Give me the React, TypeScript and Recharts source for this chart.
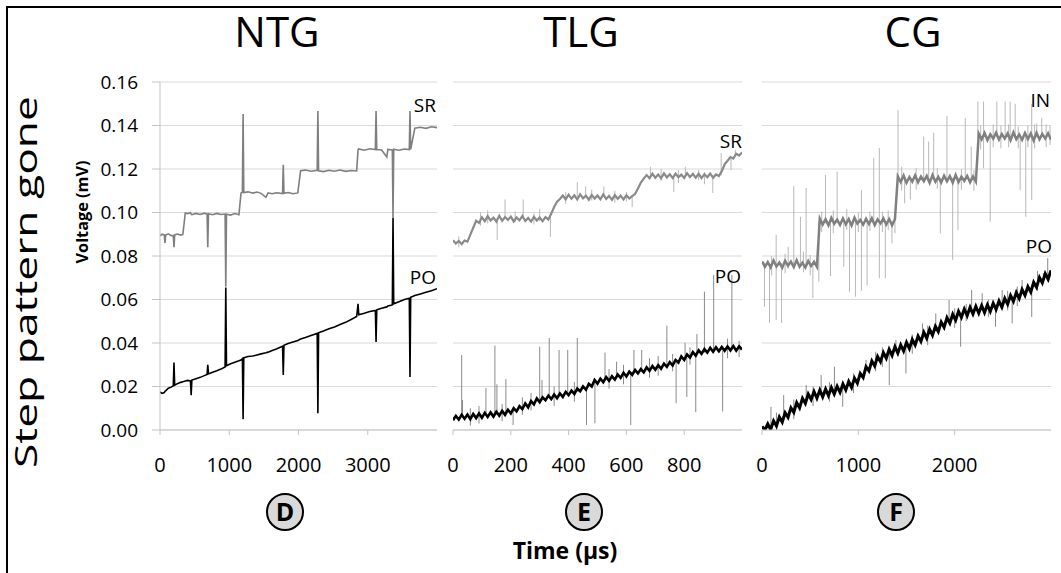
import React from 'react';
import { LineChart, Line, XAxis, YAxis, CartesianGrid, ReferenceLine } from 'recharts';

const FONT = "'Open Sans', 'DejaVu Sans', sans-serif";
const GRID = '#d9d9d9';
const AXIS = '#c4c4c4';

const yTicks = [0, 0.02, 0.04, 0.06, 0.08, 0.1, 0.12, 0.14, 0.16];

// --- NTG (panel D) ---
const ntgTicks = [0, 1000, 2000, 3000];
const ntgTime = [
  0, 30, 62, 72, 82, 120, 160, 192, 202, 212,
  250, 300, 330, 365, 400, 440, 450, 460, 520, 580,
  640, 680, 690, 700, 760, 820, 880, 940, 950, 960,
  1020, 1080, 1140, 1170, 1190, 1200, 1210, 1270, 1340, 1400,
  1460, 1530, 1560, 1620, 1680, 1770, 1780, 1790, 1850, 1920,
  1990, 2030, 2100, 2180, 2270, 2280, 2290, 2360, 2440, 2520,
  2600, 2680, 2760, 2840, 2860, 2870, 2950, 3030, 3110, 3120,
  3130, 3200, 3275, 3290, 3355, 3365, 3375, 3450, 3530, 3600,
  3610, 3620, 3680, 3760, 3840, 3920, 4000,
];
const ntgSR = [
  0.0893, 0.09, 0.0897, 0.086, 0.0896, 0.0902, 0.0894, 0.0895, 0.084, 0.0897,
  0.0901, 0.0896, 0.0899, 0.0998, 0.0995, 0.0999, 0.0992, 0.099, 0.0996, 0.0991,
  0.0997, 0.0993, 0.084, 0.0994, 0.099, 0.0996, 0.0991, 0.0993, 0.066, 0.0992,
  0.0988, 0.0995, 0.099, 0.109, 0.1093, 0.1453, 0.1092, 0.1095, 0.1089, 0.1094,
  0.1088, 0.107, 0.109, 0.1086, 0.1091, 0.1087, 0.122, 0.1088, 0.1092, 0.1086,
  0.109, 0.1192, 0.1195, 0.119, 0.1194, 0.1467, 0.1192, 0.1188, 0.1194, 0.119,
  0.1195, 0.1189, 0.1193, 0.1191, 0.1288, 0.1292, 0.1286, 0.1293, 0.1289, 0.1467,
  0.129, 0.1287, 0.1255, 0.129, 0.1288, 0.0975, 0.1291, 0.1286, 0.1292, 0.1289,
  0.1467, 0.129, 0.1388, 0.1392, 0.1387, 0.1394, 0.139,
];
const ntgPO = [
  0.0175, 0.0168, 0.0172, 0.0178, 0.018, 0.0192, 0.0197, 0.0203, 0.031, 0.0206,
  0.0213, 0.0219, 0.0222, 0.0225, 0.0228, 0.0226, 0.016, 0.023, 0.0236, 0.0242,
  0.025, 0.0255, 0.03, 0.0258, 0.0266, 0.0272, 0.028, 0.029, 0.0655, 0.0296,
  0.0305, 0.0312, 0.0318, 0.0322, 0.0328, 0.005, 0.0332, 0.0338, 0.034, 0.0345,
  0.035, 0.0355, 0.0358, 0.0365, 0.0372, 0.0385, 0.0253, 0.039, 0.0398, 0.0405,
  0.0412, 0.0418, 0.0425, 0.0434, 0.0444, 0.0077, 0.0447, 0.0455, 0.0465, 0.0474,
  0.0485, 0.0495, 0.0508, 0.0522, 0.058, 0.053, 0.0537, 0.0545, 0.055, 0.0405,
  0.0553, 0.056, 0.0566, 0.057, 0.0575, 0.0975, 0.058, 0.059, 0.06, 0.0606,
  0.0244, 0.061, 0.0618, 0.0625, 0.0633, 0.064, 0.065,
];

// --- TLG (panel E) ---
const tlgTicks = [0, 200, 400, 600, 800];
const tlgTime = [
  0, 10, 20, 30, 40, 50, 60, 70, 80, 90,
  100, 110, 120, 130, 140, 150, 160, 170, 180, 190,
  200, 210, 220, 230, 240, 250, 260, 270, 280, 290,
  300, 310, 320, 330, 340, 350, 360, 370, 380, 390,
  400, 410, 420, 430, 440, 450, 460, 470, 480, 490,
  500, 510, 520, 530, 540, 550, 560, 570, 580, 590,
  600, 610, 620, 630, 640, 650, 660, 670, 680, 690,
  700, 710, 720, 730, 740, 750, 760, 770, 780, 790,
  800, 810, 820, 830, 840, 850, 860, 870, 880, 890,
  900, 910, 920, 930, 940, 950, 960, 970, 980, 990, 1000,
];
const tlgSR = [
  0.0872, 0.0858, 0.0869, 0.0855, 0.0871, 0.0866, 0.0898, 0.093, 0.0962, 0.0952,
  0.0978, 0.096, 0.0983, 0.0963, 0.0976, 0.0958, 0.0985, 0.0962, 0.0979, 0.0966,
  0.0981, 0.0959, 0.0977, 0.0964, 0.0984, 0.0961, 0.0975, 0.0958, 0.098, 0.0963,
  0.0977, 0.096, 0.0979, 0.0968, 0.0995, 0.1025, 0.105, 0.1062, 0.1078, 0.1061,
  0.1082, 0.1063, 0.1079, 0.106, 0.1084, 0.1065, 0.1077, 0.1059, 0.1081, 0.1064,
  0.1078, 0.1061, 0.1083, 0.1062, 0.1076, 0.1058, 0.108, 0.1063, 0.1077, 0.106,
  0.1079, 0.1064, 0.1075, 0.1085, 0.111, 0.1138, 0.1156, 0.1172, 0.1158, 0.1178,
  0.116, 0.1175, 0.1157, 0.118, 0.1161, 0.1176, 0.1158, 0.1179, 0.1162, 0.1174,
  0.1159, 0.1181, 0.1163, 0.1177, 0.116, 0.1178, 0.1158, 0.1176, 0.1162, 0.1179,
  0.116, 0.1175, 0.1168, 0.119, 0.1222, 0.1238, 0.1255, 0.1248, 0.127, 0.1262, 0.1276,
];
const tlgPO = [
  0.0045, 0.0065, 0.0048, 0.007, 0.0052, 0.0071, 0.005, 0.0074, 0.0055, 0.0076,
  0.0056, 0.0079, 0.006, 0.0081, 0.0062, 0.0084, 0.0066, 0.0088, 0.007, 0.0093,
  0.0076, 0.01, 0.0086, 0.011, 0.0096, 0.0122, 0.0104, 0.0133, 0.0118, 0.0145,
  0.0128, 0.015, 0.0137, 0.0158, 0.0142, 0.0163, 0.0146, 0.0168, 0.0152, 0.0175,
  0.016, 0.0181, 0.0166, 0.019, 0.0178, 0.02, 0.0185, 0.0212, 0.02, 0.023,
  0.0213, 0.0236, 0.022, 0.0243, 0.0226, 0.0247, 0.0232, 0.0255, 0.024, 0.0263,
  0.0246, 0.0268, 0.0254, 0.0276, 0.026, 0.028, 0.0265, 0.0288, 0.0272, 0.0294,
  0.0277, 0.0298, 0.0282, 0.0305, 0.029, 0.0312, 0.0297, 0.0322, 0.031, 0.0338,
  0.0322, 0.0347, 0.0333, 0.0358, 0.0342, 0.0366, 0.035, 0.0372, 0.0356, 0.0378,
  0.036, 0.038, 0.0362, 0.0382, 0.0364, 0.0384, 0.0366, 0.0386, 0.0365, 0.0385, 0.037,
];
// [time, low, high]
const tlgSRSpikes = [
  [20, 0.084, 0.089], [95, 0.094, 0.1], [120, 0.095, 0.101], [153, 0.0874, 0.0975],
  [180, 0.097, 0.106], [215, 0.0955, 0.1005], [243, 0.097, 0.106], [280, 0.0945, 0.0995],
  [300, 0.096, 0.1015], [337, 0.0888, 0.098], [390, 0.104, 0.1095], [430, 0.107, 0.114],
  [459, 0.107, 0.112], [480, 0.1055, 0.1105], [522, 0.107, 0.112], [560, 0.1045, 0.11],
  [600, 0.105, 0.1095], [620, 0.1025, 0.1075], [683, 0.1165, 0.121], [720, 0.1145, 0.12],
  [764, 0.1094, 0.117], [780, 0.1135, 0.1195], [804, 0.1168, 0.121], [850, 0.115, 0.1195],
  [870, 0.113, 0.1185], [899, 0.109, 0.117], [928, 0.117, 0.1273], [962, 0.1195, 0.125],
  [977, 0.1262, 0.1287],
];
const tlgPOSpikes = [
  [30, 0.006, 0.0345], [33, 0.006, 0.0138], [60, 0.002, 0.01], [90, 0.003, 0.011],
  [114, 0.0065, 0.0193], [145, 0.007, 0.0388], [152, 0.007, 0.021], [170, 0.004, 0.012],
  [183, 0.0082, 0.0234], [208, 0.0023, 0.0088], [240, 0.007, 0.015], [270, 0.009, 0.017],
  [300, 0.0138, 0.0383], [308, 0.014, 0.023], [333, 0.0148, 0.0423], [350, 0.011, 0.02],
  [367, 0.0156, 0.0368], [397, 0.0165, 0.0368], [420, 0.013, 0.022], [430, 0.0175, 0.0423],
  [462, 0.0023, 0.02], [491, 0.0031, 0.022], [526, 0.023, 0.0356], [540, 0.019, 0.028],
  [566, 0.0242, 0.0314], [590, 0.021, 0.03], [615, 0.0023, 0.026], [626, 0.0262, 0.0368],
  [653, 0.0268, 0.0368], [680, 0.024, 0.033], [710, 0.025, 0.034], [740, 0.0295, 0.048],
  [760, 0.027, 0.035], [772, 0.0123, 0.031], [803, 0.033, 0.0401], [809, 0.0152, 0.0332],
  [820, 0.03, 0.038], [840, 0.0082, 0.0348], [844, 0.0348, 0.0441], [870, 0.0355, 0.0636],
  [902, 0.0365, 0.0713], [933, 0.0085, 0.0365], [950, 0.033, 0.042], [965, 0.0368, 0.0713],
  [990, 0.0335, 0.041],
];

// --- CG (panel F) ---
const cgTicks = [0, 1000, 2000];
const cgTime = [
  0, 30, 60, 90, 120, 150, 180, 210, 240, 270, 300, 330, 360, 390, 420, 450, 480, 510, 540, 570,
  600, 630, 660, 690, 720, 750, 780, 810, 840, 870, 900, 930, 960, 990, 1020, 1050, 1080, 1110, 1140, 1170,
  1200, 1230, 1260, 1290, 1320, 1350, 1380, 1410, 1440, 1470, 1500, 1530, 1560, 1590, 1620, 1650, 1680, 1710, 1740, 1770,
  1800, 1830, 1860, 1890, 1920, 1950, 1980, 2010, 2040, 2070, 2100, 2130, 2160, 2190, 2220, 2250, 2280, 2310, 2340, 2370,
  2400, 2430, 2460, 2490, 2520, 2550, 2580, 2610, 2640, 2670, 2700, 2730, 2760, 2790, 2820, 2850, 2880, 2910, 2940, 2970,
  3000,
];
const cgIN = [
  0.0775, 0.075, 0.0772, 0.0748, 0.0779, 0.0752, 0.077, 0.0746, 0.0778, 0.0755, 0.0774, 0.0749, 0.0781, 0.0751, 0.0769, 0.0747, 0.0777, 0.0754, 0.0773, 0.075,
  0.0972, 0.0945, 0.0969, 0.0941, 0.0975, 0.0948, 0.0967, 0.0943, 0.0973, 0.0946, 0.097, 0.094, 0.0976, 0.0949, 0.0966, 0.0944, 0.0971, 0.0947, 0.0974, 0.0942,
  0.0968, 0.095, 0.0973, 0.0945, 0.097, 0.0941, 0.0969, 0.1166, 0.114, 0.117, 0.1137, 0.1163, 0.1142, 0.1171, 0.1139, 0.1165, 0.1144, 0.1168, 0.1136, 0.1172,
  0.1141, 0.1164, 0.1138, 0.1169, 0.1143, 0.1167, 0.1137, 0.1173, 0.114, 0.1165, 0.1145, 0.1168, 0.1139, 0.1166, 0.1142, 0.1362, 0.1336, 0.1366, 0.1333, 0.136,
  0.1339, 0.1367, 0.1335, 0.1361, 0.134, 0.1364, 0.1332, 0.1368, 0.1337, 0.1359, 0.1334, 0.1365, 0.1338, 0.1363, 0.1331, 0.1366, 0.1336, 0.1361, 0.134, 0.1364,
  0.1335,
];
const cgPO = [
  0.0016, 0.0, 0.0028, 0.0002, 0.0042, 0.0018, 0.006, 0.0036, 0.0079, 0.0058, 0.0102, 0.0081, 0.0126, 0.0102, 0.0146, 0.0122, 0.0165, 0.014, 0.0177, 0.0146,
  0.0183, 0.0152, 0.0188, 0.0158, 0.0195, 0.0165, 0.0201, 0.0173, 0.0212, 0.0184, 0.0223, 0.0196, 0.0238, 0.0215, 0.026, 0.0241, 0.0291, 0.0272, 0.0317, 0.0294,
  0.0338, 0.0314, 0.0356, 0.033, 0.0371, 0.0343, 0.0383, 0.0353, 0.0391, 0.0363, 0.0403, 0.0374, 0.0416, 0.039, 0.0432, 0.0407, 0.0449, 0.0422, 0.0463, 0.0436,
  0.0477, 0.0452, 0.0496, 0.0472, 0.0516, 0.0491, 0.0532, 0.0505, 0.0546, 0.0518, 0.0556, 0.0526, 0.0564, 0.0533, 0.0569, 0.0537, 0.0572, 0.054, 0.0576, 0.0545,
  0.0583, 0.0554, 0.0593, 0.0565, 0.0605, 0.0578, 0.0619, 0.0592, 0.0632, 0.0605, 0.0646, 0.0619, 0.0659, 0.0634, 0.0679, 0.0656, 0.0701, 0.0676, 0.0719, 0.0693,
  0.0734,
];
const cgINSpikes = [
  [26, 0.0567, 0.077], [78, 0.0492, 0.0765], [100, 0.071, 0.08], [147, 0.0506, 0.0897],
  [203, 0.0492, 0.0768], [240, 0.072, 0.081], [272, 0.074, 0.0843], [330, 0.0755, 0.1122],
  [399, 0.075, 0.098], [430, 0.0725, 0.082], [458, 0.0755, 0.1113], [500, 0.071, 0.0805],
  [528, 0.0607, 0.077],
  [590, 0.0682, 0.096], [620, 0.091, 0.1005], [659, 0.095, 0.1172], [711, 0.0708, 0.096],
  [740, 0.0905, 0.101], [780, 0.095, 0.1188], [849, 0.0751, 0.096], [880, 0.092, 0.1015],
  [908, 0.0636, 0.096], [970, 0.0613, 0.096], [1000, 0.091, 0.1], [1032, 0.064, 0.1103],
  [1091, 0.0664, 0.096], [1120, 0.0915, 0.1005], [1160, 0.095, 0.125], [1218, 0.0698, 0.1297],
  [1250, 0.091, 0.1005], [1280, 0.0698, 0.096], [1310, 0.092, 0.101], [1349, 0.0858, 0.096],
  [1380, 0.0905, 0.1],
  [1412, 0.115, 0.147], [1450, 0.11, 0.121], [1481, 0.1042, 0.116], [1540, 0.106, 0.116],
  [1600, 0.1105, 0.1205], [1678, 0.115, 0.1349], [1730, 0.115, 0.1326], [1782, 0.115, 0.1367],
  [1820, 0.111, 0.1205], [1851, 0.0904, 0.116], [1920, 0.115, 0.1444], [1979, 0.0782, 0.116],
  [2034, 0.0919, 0.116], [2070, 0.1105, 0.12], [2110, 0.115, 0.1434], [2172, 0.115, 0.1303],
  [2200, 0.11, 0.1195],
  [2241, 0.1345, 0.151], [2270, 0.129, 0.14], [2300, 0.1203, 0.151], [2369, 0.0958, 0.135],
  [2400, 0.13, 0.1405], [2438, 0.1345, 0.151], [2480, 0.1295, 0.14], [2524, 0.1345, 0.151],
  [2560, 0.13, 0.1405], [2576, 0.1345, 0.151], [2628, 0.1345, 0.15], [2660, 0.1295, 0.1395],
  [2680, 0.1103, 0.135], [2738, 0.098, 0.135], [2760, 0.13, 0.14], [2800, 0.1057, 0.15],
  [2830, 0.1295, 0.1405], [2852, 0.1345, 0.141], [2904, 0.1345, 0.1434], [2950, 0.13, 0.1405],
  [2990, 0.131, 0.14],
];
const cgPOSpikes = [
  [93, 0.0012, 0.0107], [150, 0.0, 0.008], [225, 0.005, 0.016], [330, 0.005, 0.014],
  [459, 0.014, 0.0207], [530, 0.011, 0.02], [614, 0.0165, 0.0253], [700, 0.013, 0.022],
  [752, 0.018, 0.0291], [838, 0.0107, 0.0193], [950, 0.017, 0.026], [1080, 0.027, 0.0322],
  [1180, 0.027, 0.036], [1250, 0.029, 0.038], [1321, 0.0207, 0.035], [1390, 0.0365, 0.0414],
  [1494, 0.026, 0.0385], [1560, 0.035, 0.044], [1666, 0.043, 0.049], [1720, 0.039, 0.048],
  [1804, 0.046, 0.0536], [1942, 0.0505, 0.0598], [2000, 0.047, 0.056], [2062, 0.0383, 0.053],
  [2120, 0.05, 0.058], [2176, 0.0548, 0.0644], [2286, 0.0557, 0.0629], [2350, 0.052, 0.06],
  [2424, 0.0475, 0.0568], [2493, 0.0582, 0.0644], [2550, 0.055, 0.064], [2597, 0.049, 0.0605],
  [2650, 0.057, 0.066], [2700, 0.0628, 0.069], [2800, 0.052, 0.0655], [2860, 0.064, 0.073],
  [2921, 0.0695, 0.0721], [2966, 0.0705, 0.079],
];

type Spike = number[];
type Trace = { key: string; values: number[]; color: string; width: number; spikes?: Spike[]; spikeColor?: string };

const tickStyle = { fill: '#000', fontSize: 20, fontFamily: FONT };

function TracePanel(props: {
  left: number; width: number; mLeft: number; mRight: number; showY: boolean;
  time: number[]; xMax: number; xTicks: number[]; traces: Trace[];
}) {
  const { left, width, mLeft, mRight, showY, time, xMax, xTicks, traces } = props;
  const rows = time.map((t, i) => {
    const row: Record<string, number> = { t };
    traces.forEach((tr) => { row[tr.key] = tr.values[i]; });
    return row;
  });
  return (
    <div style={{ position: 'absolute', left, top: 0 }}>
      <LineChart width={width} height={573} data={rows} margin={{ top: 82, right: mRight, left: mLeft, bottom: 113 }}>
        <CartesianGrid horizontal vertical={false} stroke={GRID} />
        <XAxis
          dataKey="t" type="number" domain={[0, xMax]} ticks={xTicks} allowDataOverflow
          stroke={AXIS} tickSize={5} tickMargin={23} height={30} tick={tickStyle} interval={0}
        />
        <YAxis
          type="number" domain={[0, 0.16]} ticks={yTicks} hide={!showY} width={showY ? 160 : 0}
          stroke={AXIS} tickSize={8} tickMargin={14} allowDataOverflow
          tickFormatter={(v: number) => v.toFixed(2)}
          tick={{ ...tickStyle, fontSize: 19 }}
        />
        {traces.map((tr) =>
          (tr.spikes || []).map(([t, lo, hi], i) => (
            <ReferenceLine
              key={`${tr.key}-s${i}`}
              segment={[{ x: t, y: lo }, { x: t, y: hi }]}
              stroke={tr.spikeColor}
              strokeWidth={1}
              ifOverflow="hidden"
            />
          ))
        )}
        {traces.map((tr) => (
          <Line
            key={tr.key} dataKey={tr.key} type="linear" dot={false} activeDot={false}
            stroke={tr.color} strokeWidth={tr.width} isAnimationActive={false}
          />
        ))}
      </LineChart>
    </div>
  );
}

function Badge({ x, letter }: { x: number; letter: string }) {
  return (
    <g>
      <circle cx={x} cy={512} r={18} fill="#d9d9d9" stroke="#000" strokeWidth={2} />
      <text x={x} y={521} textAnchor="middle" fontFamily={FONT} fontWeight={700} fontSize={25}>{letter}</text>
    </g>
  );
}

export default function App() {
  return (
    <div style={{ position: 'absolute', left: 0, top: 0, width: 1061, height: 573, background: '#fff', overflow: 'hidden' }}>
      <TracePanel
        left={0} width={450} mLeft={0} mRight={13} showY time={ntgTime} xMax={4000} xTicks={ntgTicks}
        traces={[
          { key: 'SR', values: ntgSR, color: '#7f7f7f', width: 1.6 },
          { key: 'PO', values: ntgPO, color: '#000', width: 1.6 },
        ]}
      />
      <TracePanel
        left={440} width={315} mLeft={13} mRight={13} showY={false} time={tlgTime} xMax={1000} xTicks={tlgTicks}
        traces={[
          { key: 'SR', values: tlgSR, color: '#8a8a8a', width: 2.2, spikes: tlgSRSpikes, spikeColor: '#b8b8b8' },
          { key: 'PO', values: tlgPO, color: '#000', width: 2.6, spikes: tlgPOSpikes, spikeColor: '#8a8a8a' },
        ]}
      />
      <TracePanel
        left={750} width={311} mLeft={12} mRight={10} showY={false} time={cgTime} xMax={3000} xTicks={cgTicks}
        traces={[
          { key: 'IN', values: cgIN, color: '#808080', width: 2.5, spikes: cgINSpikes, spikeColor: '#b8b8b8' },
          { key: 'PO', values: cgPO, color: '#000', width: 3, spikes: cgPOSpikes, spikeColor: '#8a8a8a' },
        ]}
      />
      <svg width={1061} height={573} style={{ position: 'absolute', left: 0, top: 0, pointerEvents: 'none' }}>
        <path d="M7,573 V7 H1061" fill="none" stroke="#000" strokeWidth={2} />
        <g fontFamily={FONT} fontSize={42} textAnchor="middle">
          <text x={277} y={47}>NTG</text>
          <text x={581} y={47}>TLG</text>
          <text x={913} y={47}>CG</text>
        </g>
        <text
          transform="translate(37,282) rotate(-90)" textAnchor="middle" fontFamily={FONT} fontSize={31}
          textLength={372} lengthAdjust="spacingAndGlyphs"
        >
          Step pattern gone
        </text>
        <text
          transform="translate(88,212) rotate(-90)" textAnchor="middle" fontFamily={FONT} fontSize={16} fontWeight={700}
          textLength={103} lengthAdjust="spacingAndGlyphs"
        >
          Voltage (mV)
        </text>
        <g fontFamily={FONT} fontSize={19} textAnchor="end">
          <text x={436} y={112}>SR</text>
          <text x={436} y={284}>PO</text>
          <text x={742} y={148}>SR</text>
          <text x={741} y={283}>PO</text>
          <text x={1050} y={107}>IN</text>
          <text x={1052} y={253}>PO</text>
        </g>
        <Badge x={285} letter="D" />
        <Badge x={584} letter="E" />
        <Badge x={896} letter="F" />
        <text x={565} y={559} textAnchor="middle" fontFamily={FONT} fontSize={23} fontWeight={700}>Time (µs)</text>
      </svg>
    </div>
  );
}
